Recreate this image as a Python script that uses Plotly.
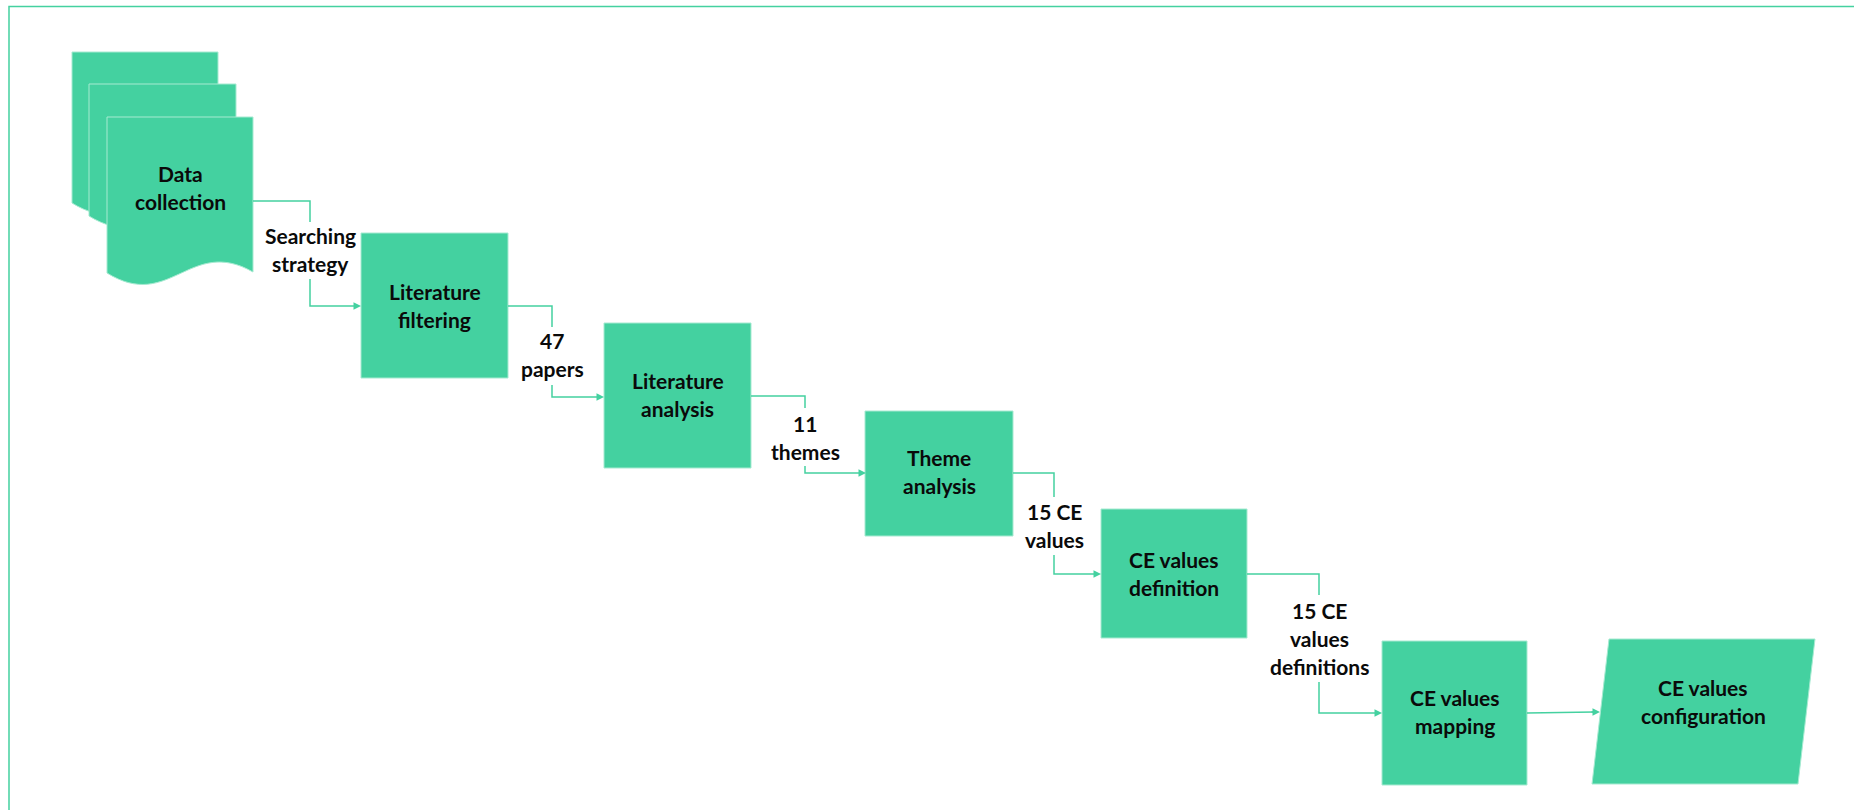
import plotly.graph_objects as go

# ---- content ----
node_labels = [
    ["Data", "collection"],
    ["Literature", "filtering"],
    ["Literature", "analysis"],
    ["Theme", "analysis"],
    ["CE values", "definition"],
    ["CE values", "mapping"],
    ["CE values", "configuration"],
]
edge_labels = [
    ["Searching", "strategy"],
    ["47", "papers"],
    ["11", "themes"],
    ["15 CE", "values"],
    ["15 CE", "values", "definitions"],
]

# ---- layout (pixel space) ----
W, H = 1854, 810
GREEN = "#44D1A0"
EDGE = "#A6EAD1"
FONT = "Lato"
FS = 21
LS = 28
DY = -2

# boxes: x0, x1, y0, y1
boxes = [
    (361, 508, 233, 378),
    (604, 751, 323, 468),
    (865, 1013, 411, 536),
    (1101, 1247, 509, 638),
    (1382, 1527, 641, 785),
]
# documents: left, right, top, bottom-left y
docs = [(72, 218, 52, 203), (89, 236, 84, 216), (107, 253, 117, 273)]
para = [(1609, 639), (1815, 639), (1798, 784), (1592, 784)]

node_pos = [(180, 175), (434.5, 293), (677.5, 382), (939, 459), (1174, 561), (1454.5, 699), (1703, 689)]
edge_pos = [(310, 237), (552, 342), (805, 425), (1054, 513), (1319, 612)]

# connectors: (start, corner x, gap top, gap bottom, end y, end x)
connectors = [
    ((253, 201), 310, 222, 279, 306, 361),
    ((508, 306), 552, 327, 385, 397, 604),
    ((751, 396), 805, 408, 466, 473, 866),
    ((1013, 473), 1054, 497, 555, 574, 1101),
    ((1247, 574), 1319, 595, 682, 713, 1382),
]

fig = go.Figure()
shapes = []
annotations = []

# frame
shapes.append(dict(type="path", path=f"M9,{H+5} L9,6.5 L{W+5},6.5",
                   line=dict(color=GREEN, width=1.5), layer="below"))

# documents (stack)
for (l, r, t, b) in docs:
    rb = b - 1
    w = r - l
    p = (f"M{l},{t} L{r},{t} L{r},{rb} "
         f"C{l + w*0.57},{rb-36} {l + w*0.43},{b+39} {l},{b} Z")
    shapes.append(dict(type="path", path=p, fillcolor=GREEN,
                       line=dict(color=EDGE, width=1)))

# process boxes
for (x0, x1, y0, y1) in boxes:
    shapes.append(dict(type="rect", x0=x0, x1=x1, y0=y0, y1=y1, fillcolor=GREEN,
                       line=dict(color=EDGE, width=1)))

# parallelogram
pp = "M" + " L".join(f"{x},{y}" for x, y in para) + " Z"
shapes.append(dict(type="path", path=pp, fillcolor=GREEN, line=dict(color=EDGE, width=1)))

# connectors
for (sx, sy), cx, g0, g1, ey, ex in connectors:
    shapes.append(dict(type="path", path=f"M{sx},{sy} L{cx},{sy} L{cx},{g0}",
                       line=dict(color=GREEN, width=1.5)))
    shapes.append(dict(type="path", path=f"M{cx},{g1} L{cx},{ey} L{ex-6},{ey}",
                       line=dict(color=GREEN, width=1.5)))
    annotations.append(dict(x=ex, y=ey, ax=ex - 8, ay=ey, xref="x", yref="y",
                            axref="x", ayref="y", showarrow=True, arrowhead=2,
                            arrowsize=1, arrowwidth=1.5, arrowcolor=GREEN, text=""))
# last connector
shapes.append(dict(type="path", path="M1527,713 L1594,712", line=dict(color=GREEN, width=1.5)))
annotations.append(dict(x=1600, y=712, ax=1590, ay=712, xref="x", yref="y",
                        axref="x", ayref="y", showarrow=True, arrowhead=2,
                        arrowsize=1, arrowwidth=1.5, arrowcolor=GREEN, text=""))

# text
def add_lines(lines, x, y):
    for i, s in enumerate(lines):
        annotations.append(dict(x=x, y=y + DY + i * LS, xref="x", yref="y", text=f"<b>{s}</b>",
                                showarrow=False, xanchor="center", yanchor="middle",
                                font=dict(family=FONT, size=FS, color="#0a0a0a")))

for lines, (x, y) in zip(node_labels, node_pos):
    add_lines(lines, x, y)
for lines, (x, y) in zip(edge_labels, edge_pos):
    add_lines(lines, x, y)

fig.update_layout(
    width=W, height=H, margin=dict(l=0, r=0, t=0, b=0),
    paper_bgcolor="white", plot_bgcolor="white",
    xaxis=dict(range=[0, W], visible=False, fixedrange=True),
    yaxis=dict(range=[H, 0], visible=False, fixedrange=True),
    shapes=shapes, annotations=annotations, showlegend=False,
)
fig.write_html("out.html", config={"displayModeBar": False},
               post_script="document.body.style.margin='0';document.body.style.overflow='hidden';")
